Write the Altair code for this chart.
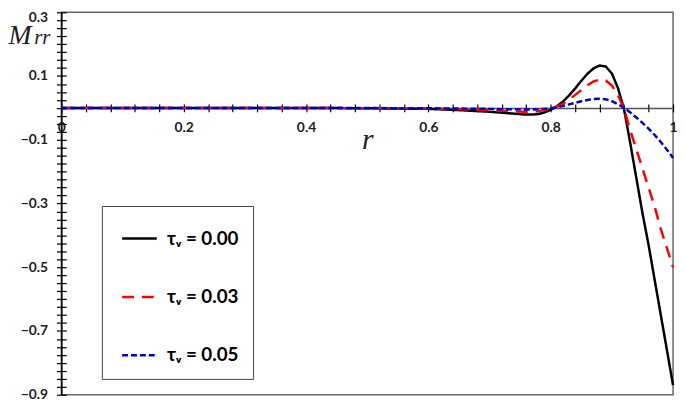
import altair as alt
import pandas as pd

# ---- data ----
r = [0, 0.1, 0.2, 0.3, 0.4, 0.5, 0.55, 0.6, 0.65, 0.7, 0.72, 0.74,
     0.76, 0.77, 0.78, 0.79, 0.80, 0.81, 0.82, 0.83, 0.84, 0.85, 0.86,
     0.87, 0.88, 0.89, 0.90, 0.91, 0.92, 0.93, 0.94, 0.95, 0.96, 0.97,
     0.98, 0.99, 1.0]
m_tau000 = [0, 0, 0, 0, 0, -0.001, -0.002, -0.003, -0.007, -0.012, -0.015, -0.018,
            -0.021, -0.021, -0.019, -0.014, -0.006, 0.005, 0.020, 0.039, 0.061, 0.085, 0.107,
            0.124, 0.133, 0.130, 0.108, 0.062, -0.005, -0.11, -0.22, -0.33, -0.43, -0.54,
            -0.65, -0.76, -0.87]
m_tau003 = [0, 0, 0, 0, 0, -0.001, -0.001, -0.002, -0.004, -0.007, -0.009, -0.011,
            -0.012, -0.012, -0.010, -0.007, -0.003, 0.004, 0.013, 0.026, 0.041, 0.056, 0.071,
            0.083, 0.089, 0.086, 0.070, 0.040, -0.003, -0.07, -0.13, -0.19, -0.25, -0.31,
            -0.38, -0.44, -0.50]
m_tau005 = [0, 0, 0, 0, 0, 0, -0.001, -0.001, -0.002, -0.003, -0.004, -0.004,
            -0.005, -0.005, -0.004, -0.003, -0.001, 0.002, 0.006, 0.011, 0.016, 0.021, 0.025,
            0.028, 0.029, 0.027, 0.021, 0.012, 0.000, -0.014, -0.030, -0.047, -0.065, -0.085,
            -0.107, -0.131, -0.157]
series_labels = ["τᵥ = 0.00", "τᵥ = 0.03", "τᵥ = 0.05"]
series_colors = ["#000000", "#ff0000", "#0000cc"]
series_dash = [[1, 0], [12, 8], [6, 3]]

x_ticks = [round(i * 0.04, 2) for i in range(26)]
y_ticks = [round(-0.9 + i * 0.025, 3) for i in range(49)]

rows = []
for lab, vals in zip(series_labels, [m_tau000, m_tau003, m_tau005]):
    for rv, mv in zip(r, vals):
        rows.append({"r": rv, "M": mv, "series": lab})
df = pd.DataFrame(rows)

W, H = 619, 387
y_dom = [-0.9, 0.3]
zero_off = -H * (0 - y_dom[0]) / (y_dom[1] - y_dom[0])

xs = alt.Scale(domain=[0, 1], nice=False, zero=False)
ys = alt.Scale(domain=y_dom, nice=False, zero=False)

LABEL_FONT = "Lato"

x_main = alt.Axis(
    values=x_ticks,
    labelExpr="abs(datum.value*5 - round(datum.value*5)) < 0.001 ? format(datum.value, '.1~f') : ''",
    offset=zero_off, tickSize=4, tickColor="black", tickWidth=1.2,
    domainColor="#555", domainWidth=1.5,
    labelFont=LABEL_FONT, labelFontWeight="bold", labelFontSize=14, labelColor="#222",
    labelPadding=9, labelFlush=False, labelOverlap=False, grid=False,
    title="r", titleFont="Liberation Serif", titleFontStyle="italic",
    titleFontWeight="normal", titleFontSize=30, titleY=41,
    titleBaseline="alphabetic", titleColor="#222",
)
y_main = alt.Axis(
    orient="left",
    values=y_ticks,
    labelExpr="abs(datum.value*10 - round(datum.value*10)) < 0.001 && abs(round(datum.value*10)) % 2 == 1 ? format(datum.value, '.1f') : ''",
    tickSize=5, tickColor="black", tickWidth=1.2,
    domainColor="black", domainWidth=1.5,
    labelFont=LABEL_FONT, labelFontWeight="bold", labelFontSize=14, labelColor="#222",
    labelPadding=9, labelOverlap=False, labelFlush=False, grid=False,
    labelOffset={"condition": {"test": "datum.value > 0.29", "value": 5}, "value": 0},
    title="M", titleAngle=0, titleX=-54, titleY=32, titleAlign="left",
    titleBaseline="alphabetic", titleFont="Liberation Serif", titleFontStyle="italic",
    titleFontWeight="normal", titleFontSize=28, titleColor="#222",
)
x_sec = alt.Axis(
    orient="bottom", values=x_ticks, offset=zero_off - 4, tickSize=4,
    tickColor="black", tickWidth=1.2, domain=False, labels=False, grid=False, title=None,
)
y_sec = alt.Axis(
    orient="left", values=y_ticks, offset=-5, tickSize=5,
    tickColor="black", tickWidth=1.2, domain=False, labels=False, grid=False,
    title="rr", titleAngle=0, titleX=-33, titleY=32, titleAlign="left",
    titleBaseline="alphabetic", titleFont="Liberation Serif", titleFontStyle="italic",
    titleFontWeight="normal", titleFontSize=21, titleColor="#222",
)

leg = alt.Legend(
    orient="none", legendX=41, legendY=196, title=None,
    symbolType="stroke", symbolSize=1225, symbolStrokeWidth=2.5, symbolOffset=5,
    labelFont=LABEL_FONT, labelFontWeight="bold", labelFontSize=19, labelColor="black",
    labelOffset=9, rowPadding=30, padding=14, strokeColor="#444", fillColor="white",
)

lines = alt.Chart(df).mark_line(strokeWidth=2.5).encode(
    x=alt.X("r:Q", scale=xs, axis=x_main),
    y=alt.Y("M:Q", scale=ys, axis=y_main),
    color=alt.Color("series:N", scale=alt.Scale(domain=series_labels, range=series_colors), legend=leg),
    strokeDash=alt.StrokeDash("series:N", scale=alt.Scale(domain=series_labels, range=series_dash), legend=leg),
    order="r:Q",
)

ghost = alt.Chart(df).mark_line(opacity=0).encode(
    x=alt.X("r:Q", scale=xs, axis=x_sec),
    y=alt.Y("M:Q", scale=ys, axis=y_sec),
    detail="series:N",
)

chart = alt.layer(lines, ghost).resolve_axis(x="independent", y="independent").properties(
    width=W, height=H,
    autosize="none",
    padding={"left": 54, "top": 2, "right": 4, "bottom": 6},
).configure_view(stroke="#666", strokeWidth=1.5)

chart.save("out.html", embed_options={"renderer": "svg", "actions": False})
